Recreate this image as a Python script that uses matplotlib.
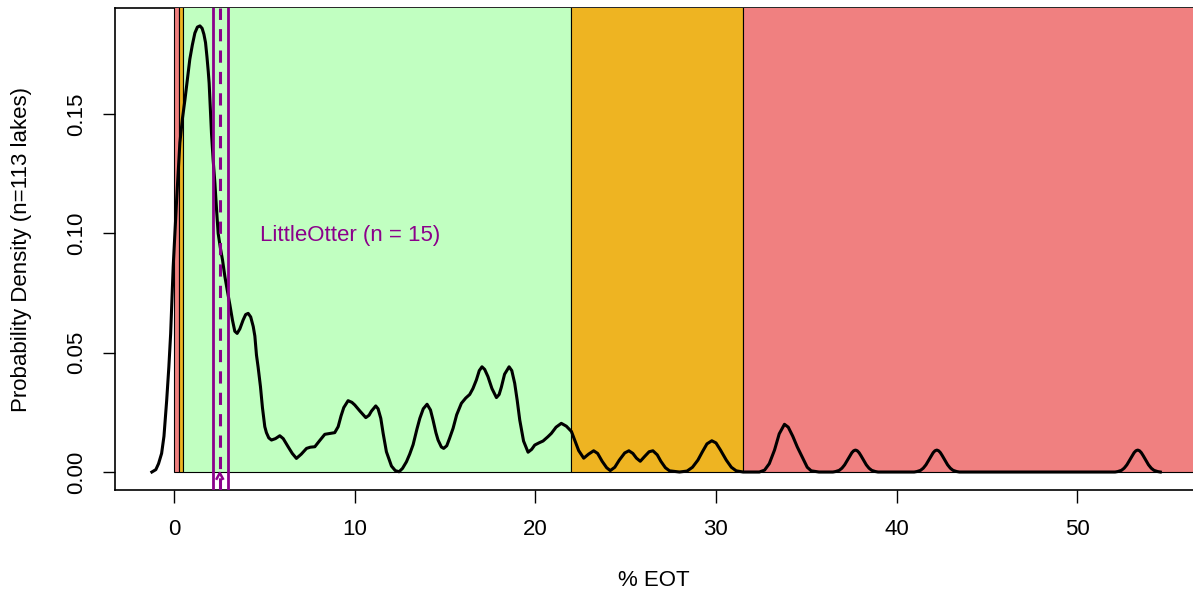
import matplotlib.pyplot as plt
from matplotlib.patches import Rectangle

plt.rcParams['font.family'] = ['Liberation Sans', 'DejaVu Sans']

# density curve (% EOT, density)
eot = [-1.22, -1.0, -0.85, -0.68, -0.55, -0.40, -0.28, -0.18, -0.04, 0.15, 0.33, 0.47,
       0.61, 0.75, 0.88, 1.02, 1.16, 1.30, 1.44, 1.56, 1.66, 1.75, 1.83, 1.90, 1.95,
       2.02, 2.08, 2.17, 2.27, 2.36, 2.45, 2.57, 2.69, 2.82, 2.95, 3.10, 3.24, 3.37,
       3.50, 3.65, 3.83, 3.97, 4.11, 4.25, 4.39, 4.48, 4.57, 4.66, 4.79, 4.90, 5.03,
       5.12, 5.25, 5.40, 5.62, 5.86, 6.05, 6.32, 6.55, 6.78,
       7.05, 7.34, 7.55, 7.80, 8.05, 8.35, 8.65, 8.90, 9.09, 9.25, 9.40, 9.64, 9.85,
       10.01, 10.30, 10.62, 10.80, 10.93, 11.17, 11.30, 11.45, 11.58, 11.76, 12.04,
       12.25, 12.46, 12.65, 12.87, 13.05, 13.24, 13.45, 13.61, 13.80, 14.01, 14.20,
       14.34, 14.50, 14.62, 14.80, 14.93, 15.10, 15.25, 15.45, 15.65, 15.91, 16.15,
       16.37, 16.55, 16.74, 16.90, 17.05, 17.20, 17.38, 17.60, 17.85, 18.00, 18.12,
       18.30, 18.55, 18.70, 18.86, 19.00, 19.14, 19.35, 19.60, 19.80, 19.97, 20.20,
       20.43, 20.70, 20.89, 21.15, 21.44, 21.72, 22.00, 22.20, 22.40, 22.68, 22.95,
       23.23, 23.45, 23.70, 23.95, 24.15, 24.40, 24.65, 24.95, 25.18, 25.40, 25.60,
       25.81, 26.05, 26.30, 26.51, 26.75, 26.95, 27.20, 27.43, 27.98, 28.40, 28.70,
       29.00, 29.25, 29.50, 29.77, 30.00, 30.25, 30.57, 30.85, 31.12, 31.50, 32.40,
       32.69, 32.95, 33.24, 33.50, 33.79, 34.00, 34.25, 34.50, 34.81, 35.05, 35.27,
       35.70,
       36.47, 36.62, 36.82, 36.97, 37.12, 37.29, 37.42, 37.52, 37.62, 37.72, 37.82,
       37.92, 38.02, 38.15, 38.32, 38.47, 38.62, 38.82, 38.97,
       40.97, 41.12, 41.32, 41.47, 41.62, 41.79, 41.92, 42.02, 42.12, 42.22, 42.32,
       42.42, 42.52, 42.65, 42.82, 42.97, 43.12, 43.32, 43.47,
       52.09, 52.24, 52.44, 52.59, 52.74, 52.91, 53.04, 53.14, 53.24, 53.34, 53.44,
       53.54, 53.64, 53.77, 53.94, 54.09, 54.24, 54.44, 54.59]
dens = [0.0000, 0.0010, 0.0035, 0.0078, 0.0150, 0.0300, 0.0440, 0.0580, 0.0860, 0.1140,
        0.1380, 0.1480, 0.1560, 0.1650, 0.1730, 0.1790, 0.1840, 0.1865, 0.1870, 0.1860,
        0.1835, 0.1800, 0.1740, 0.1680, 0.1630, 0.1520, 0.1420, 0.1310, 0.1210, 0.1100,
        0.1000, 0.0940, 0.0889, 0.0820, 0.0763, 0.0700, 0.0637, 0.0590, 0.0581, 0.0600,
        0.0637, 0.0660, 0.0665, 0.0650, 0.0610, 0.0570, 0.0490, 0.0440, 0.0358, 0.0270,
        0.0190, 0.0165, 0.0143, 0.0134, 0.0140, 0.0152, 0.0140, 0.0106, 0.0078, 0.0057,
        0.0075, 0.0099, 0.0104, 0.0106, 0.0130, 0.0158, 0.0162, 0.0165, 0.0190, 0.0235,
        0.0270, 0.0299, 0.0292, 0.0281, 0.0255, 0.0228, 0.0238, 0.0255, 0.0277, 0.0265,
        0.0225, 0.0162, 0.0085, 0.0025, 0.0006, 0.0001, 0.0015, 0.0043, 0.0075, 0.0115,
        0.0180, 0.0225, 0.0265, 0.0284, 0.0260, 0.0218, 0.0165, 0.0134, 0.0105, 0.0099,
        0.0110, 0.0140, 0.0183, 0.0240, 0.0288, 0.0310, 0.0325, 0.0350, 0.0386, 0.0425,
        0.0441, 0.0430, 0.0400, 0.0350, 0.0312, 0.0325, 0.0355, 0.0410, 0.0441, 0.0425,
        0.0372, 0.0300, 0.0218, 0.0130, 0.0083, 0.0095, 0.0113, 0.0122, 0.0130, 0.0148,
        0.0162, 0.0188, 0.0204, 0.0192, 0.0170, 0.0130, 0.0090, 0.0058, 0.0075, 0.0089,
        0.0078, 0.0045, 0.0018, 0.0006, 0.0020, 0.0050, 0.0080, 0.0089, 0.0078, 0.0058,
        0.0045, 0.0065, 0.0085, 0.0089, 0.0072, 0.0045, 0.0018, 0.0005, 0.0000, 0.0004,
        0.0020, 0.0050, 0.0085, 0.0118, 0.0131, 0.0122, 0.0092, 0.0050, 0.0020, 0.0005,
        0.0000, 0.0000, 0.0008, 0.0035, 0.0092, 0.0160, 0.0200, 0.0188, 0.0150, 0.0105,
        0.0057, 0.0020, 0.0005, 0.0000,
        0.0000, 0.0002, 0.0007, 0.0016, 0.0030, 0.0052, 0.0069, 0.0081, 0.0089, 0.0092,
        0.0089, 0.0081, 0.0069, 0.0052, 0.0030, 0.0016, 0.0007, 0.0002, 0.0000,
        0.0000, 0.0002, 0.0007, 0.0016, 0.0030, 0.0052, 0.0069, 0.0081, 0.0089, 0.0092,
        0.0089, 0.0081, 0.0069, 0.0052, 0.0030, 0.0016, 0.0007, 0.0002, 0.0000,
        0.0000, 0.0002, 0.0007, 0.0016, 0.0030, 0.0052, 0.0069, 0.0081, 0.0089, 0.0092,
        0.0089, 0.0081, 0.0069, 0.0052, 0.0030, 0.0016, 0.0007, 0.0002, 0.0000]

# background classes: (start, end, colour)
band_start = [0.0, 0.3, 0.5, 22.0, 31.5]
band_end = [0.3, 0.5, 22.0, 31.5, 60.0]
band_color = ['#F08080', '#EEB422', '#C1FFC1', '#EEB422', '#F08080']

# lake estimate with interval
lake_label = 'LittleOtter (n = 15)'
lake_mean = 2.54
lake_lo = 2.14
lake_hi = 3.0

xticks = [0, 10, 20, 30, 40, 50]
yticks = [0.00, 0.05, 0.10, 0.15]
purple = '#8B008B'

fig = plt.figure(figsize=(11.93, 5.95), dpi=100)
ax = fig.add_axes([115 / 1193, 1 - 490 / 595, 1 - 115 / 1193, (490 - 8) / 595])

for s, e, c in zip(band_start, band_end, band_color):
    ax.add_patch(Rectangle((s, 0), e - s, 1, facecolor=c, edgecolor='black',
                           linewidth=0.8, zorder=3))

ax.plot(eot, dens, color='black', linewidth=2.2, zorder=5, solid_joinstyle='round')

ax.axvline(lake_lo, color=purple, linewidth=2, zorder=6)
ax.axvline(lake_hi, color=purple, linewidth=2, zorder=6)
ax.axvline(lake_mean, color=purple, linewidth=2.2, linestyle=(0, (4, 3)), zorder=6)
ax.plot([lake_mean - 0.17, lake_mean, lake_mean + 0.17], [-0.0028, -0.0004, -0.0028],
        color=purple, linewidth=1.8, zorder=6)
ax.text(4.75, 0.099, lake_label, color=purple, fontsize=16, ha='left', va='center',
        zorder=7)

ax.set_xlim(-3.26, 56.4)
ax.set_ylim(-0.00754, 0.1945)
ax.set_xticks(xticks)
ax.set_xticklabels([str(t) for t in xticks])
ax.set_yticks(yticks)
ax.set_yticklabels(['%.2f' % t for t in yticks], rotation=90, va='center')
ax.tick_params(length=9, width=1, labelsize=16)
ax.tick_params(axis='x', pad=12)
ax.tick_params(axis='y', pad=11)
ax.spines['right'].set_visible(False)
for sp in ['left', 'bottom', 'top']:
    ax.spines[sp].set_linewidth(1.2)

fig.text(22 / 1193, 1 - 249 / 595, 'Probability Density (n=113 lakes)', rotation=90,
         ha='center', va='center', fontsize=16)
fig.text(654 / 1193, 1 - 580 / 595, '% EOT', ha='center', va='center', fontsize=16)

fig.savefig('out.png', dpi=100)
